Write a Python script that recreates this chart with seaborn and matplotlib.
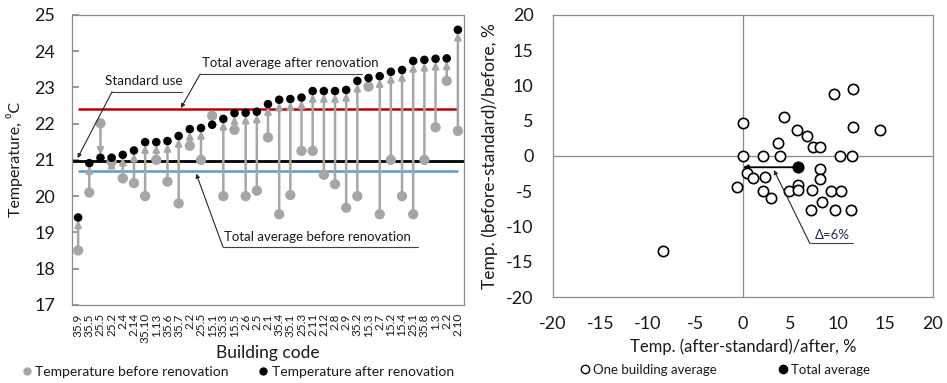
import numpy as np
import pandas as pd
import matplotlib
matplotlib.use("Agg")
import matplotlib.pyplot as plt
from matplotlib.lines import Line2D
import seaborn as sns

# ---------------- data ----------------
codes = ["35.9", "35.5", "25.5", "25.2", "2.4", "2.14", "35.10", "1.13", "35.6", "35.7",
         "2.2", "25.5", "15.1", "35.3", "15.5", "2.6", "2.5", "2.1", "35.4", "35.1",
         "25.3", "2.11", "2.12", "2.8", "2.9", "35.2", "15.3", "2.7", "15.2", "15.4",
         "25.1", "35.8", "1.3", "2.2", "2.10"]
temp_before = [18.50, 20.10, 22.01, 20.95, 20.49, 20.36, 20.00, 21.00, 20.40, 19.80,
               21.39, 21.00, 22.22, 20.00, 21.83, 20.00, 20.15, 21.62, 19.50, 20.03,
               21.25, 21.25, 20.59, 20.33, 19.68, 20.00, 23.02, 19.50, 21.00, 20.00,
               19.50, 21.00, 21.90, 23.18, 21.80]
temp_after = [19.41, 20.91, 21.06, 21.06, 21.14, 21.26, 21.49, 21.49, 21.52, 21.66,
              21.85, 21.88, 21.97, 22.13, 22.29, 22.30, 22.33, 22.54, 22.66, 22.68,
              22.72, 22.90, 22.90, 22.90, 22.93, 23.18, 23.26, 23.31, 23.43, 23.48,
              23.73, 23.76, 23.79, 23.80, 24.59]
avg_after = 22.41
standard_use = 20.97
avg_before = 20.70

rel_after = [9.58, 11.55, 0.04, 4.32, 5.72, 6.70, 11.55, 14.42, 3.72, 7.40,
             8.10, 0.00, 2.14, 3.90, 10.20, 11.50, 0.46, 1.09, 2.32, -0.67,
             2.07, 2.91, 4.88, 5.83, 5.75, 7.23, 8.17, 8.17, 8.28, 7.20,
             9.26, 10.38, 9.75, 11.37, -8.39]
rel_before = [8.75, 9.46, 4.64, 5.49, 3.69, 2.84, 4.16, 3.69, 1.89, 1.23,
              1.23, 0.00, 0.00, 0.00, 0.00, 0.00, -2.36, -3.17, -2.93, -4.35,
              -4.97, -6.00, -4.97, -4.11, -4.82, -4.82, -1.89, -3.26, -6.48, -7.66,
              -4.97, -4.97, -7.66, -7.66, -13.50]
total_avg_x = [5.83]
total_avg_y = [-1.60]

# ---------------- style ----------------
sns.set_theme(style="white")
plt.rcParams["font.family"] = ["Lato", "DejaVu Sans"]
plt.rcParams["axes.unicode_minus"] = False
GREY = "#a6a6a6"
SPINE = "#8c8c8c"
TXT = "#1a1a1a"

fig = plt.figure(figsize=(9.47, 3.83), dpi=100)
ax1 = fig.add_axes([0.076, 0.204, 0.414, 0.757])
ax2 = fig.add_axes([0.584, 0.2245, 0.401, 0.7365])

# ---------------- left chart ----------------
pos = np.arange(len(codes))
df = pd.DataFrame({"pos": pos, "code": codes, "before": temp_before, "after": temp_after})

ax1.axhline(standard_use, color="black", lw=2, zorder=1)
ax1.hlines(avg_after, pos[0], pos[-1], color="#c00000", lw=1.8, zorder=1)
ax1.hlines(avg_before, pos[0], pos[-1], color="#5b9bd5", lw=1.8, zorder=1)

for p, b, a in zip(df["pos"], df["before"], df["after"]):
    ax1.annotate("", xy=(p, a), xytext=(p, b),
                 arrowprops=dict(arrowstyle="-|>", color=GREY, lw=1.8,
                                 mutation_scale=9, shrinkA=0, shrinkB=2),
                 zorder=2)

sns.scatterplot(data=df, x="pos", y="before", ax=ax1, color=GREY, s=55,
                edgecolor="none", zorder=3, legend=False)
sns.scatterplot(data=df, x="pos", y="after", ax=ax1, color="black", s=38,
                edgecolor="none", zorder=4, legend=False)

ax1.set_xlim(-0.55, len(codes) - 0.45)
ax1.set_ylim(17, 25)
ax1.set_yticks(range(17, 26))
ax1.set_xticks(pos)
ax1.set_xticklabels(codes, rotation=90, fontsize=8.5, color=TXT)
ax1.tick_params(axis="y", direction="in", length=5, color=SPINE, labelsize=13,
                pad=12, left=True, labelcolor=TXT)
ax1.tick_params(axis="x", length=0, pad=6)
ax1.set_xlabel("Building code", fontsize=12.5, color=TXT, labelpad=1)
ax1.set_ylabel("Temperature, ⁰C", fontsize=11.5, color=TXT, labelpad=8)
for s in ax1.spines.values():
    s.set_color(SPINE)
    s.set_linewidth(0.9)

lead = dict(arrowstyle="-|>", color="#262626", lw=0.8, mutation_scale=6,
            shrinkA=0, shrinkB=0)
# Total average after renovation
ax1.annotate("", xy=(9.2, 22.43), xytext=(10.93, 23.37), arrowprops=lead, zorder=5)
ax1.plot([10.93, 25.4], [23.37, 23.37], color="#404040", lw=0.8)
ax1.text(11.05, 23.50, "Total average after renovation", fontsize=9.5,
         color=TXT, ha="left", va="bottom")
# Standard use
ax1.annotate("", xy=(-0.05, 21.05), xytext=(3.04, 22.88), arrowprops=lead, zorder=5)
ax1.plot([3.04, 9.3], [22.88, 22.88], color="#404040", lw=0.8)
ax1.text(2.4, 23.0, "Standard use", fontsize=9.7, color=TXT, ha="left", va="bottom")
# Total average before renovation
ax1.annotate("", xy=(10.57, 20.62), xytext=(12.98, 18.59), arrowprops=lead, zorder=5)
ax1.plot([12.98, 30.4], [18.59, 18.59], color="#404040", lw=0.8)
ax1.text(13.1, 18.70, "Total average before renovation", fontsize=9.5,
         color=TXT, ha="left", va="bottom")

h1 = [Line2D([], [], marker="o", color=GREY, ls="", ms=5),
      Line2D([], [], marker="o", color="black", ls="", ms=5)]
fig.legend(h1, ["Temperature before renovation", "Temperature after renovation"],
           loc="center", bbox_to_anchor=(0.25, 0.028), ncol=2, frameon=False,
           fontsize=10, handletextpad=0.1, columnspacing=2.0, handlelength=1.0,
           labelcolor=TXT)

# ---------------- right chart ----------------
dfr = pd.DataFrame({"x": rel_after, "y": rel_before})
dft = pd.DataFrame({"x": total_avg_x, "y": total_avg_y})

ax2.axhline(0, color=SPINE, lw=0.9, zorder=1)
ax2.axvline(0, color=SPINE, lw=0.9, zorder=1)
ax2.annotate("", xy=(0, total_avg_y[0]), xytext=(total_avg_x[0], total_avg_y[0]),
             arrowprops=dict(arrowstyle="-|>", color="black", lw=1.3,
                             mutation_scale=7, shrinkA=0, shrinkB=0), zorder=2)
sns.scatterplot(data=dfr, x="x", y="y", ax=ax2, facecolor="white", edgecolor="black",
                linewidth=1.2, s=55, zorder=3, legend=False)
sns.scatterplot(data=dft, x="x", y="y", ax=ax2, color="black", s=65, edgecolor="black",
                zorder=4, legend=False)

ax2.set_xlim(-20, 20)
ax2.set_ylim(-20, 20)
ax2.set_xticks(range(-20, 21, 5))
ax2.set_yticks(range(-20, 21, 5))
ax2.tick_params(axis="both", length=0, labelsize=13, labelcolor=TXT)
ax2.tick_params(axis="x", pad=14)
ax2.tick_params(axis="y", pad=14)
ax2.set_xlabel("Temp. (after-standard)/after, %", fontsize=12, color=TXT, labelpad=4)
ax2.set_ylabel("Temp. (before-standard)/before, %", fontsize=12.5, color=TXT, labelpad=6)
for s in ax2.spines.values():
    s.set_color(SPINE)
    s.set_linewidth(0.9)

ax2.annotate("", xy=(3.26, -1.99), xytext=(7.05, -12.4), arrowprops=lead, zorder=5)
ax2.plot([7.05, 11.6], [-12.4, -12.4], color="#404040", lw=0.8)
ax2.text(7.6, -12.0, "Δ=6%", fontsize=9.5, color="#1f2d4d", ha="left", va="bottom")

h2 = [Line2D([], [], marker="o", markerfacecolor="white", markeredgecolor="black",
             ls="", ms=6, mew=1.0),
      Line2D([], [], marker="o", color="black", ls="", ms=6)]
fig.legend(h2, ["One building average", "Total average"],
           loc="center", bbox_to_anchor=(0.765, 0.035), ncol=2, frameon=False,
           fontsize=9.5, handletextpad=0.1, columnspacing=4.5, handlelength=1.0,
           labelcolor=TXT)

fig.savefig("out.png", dpi=100)
